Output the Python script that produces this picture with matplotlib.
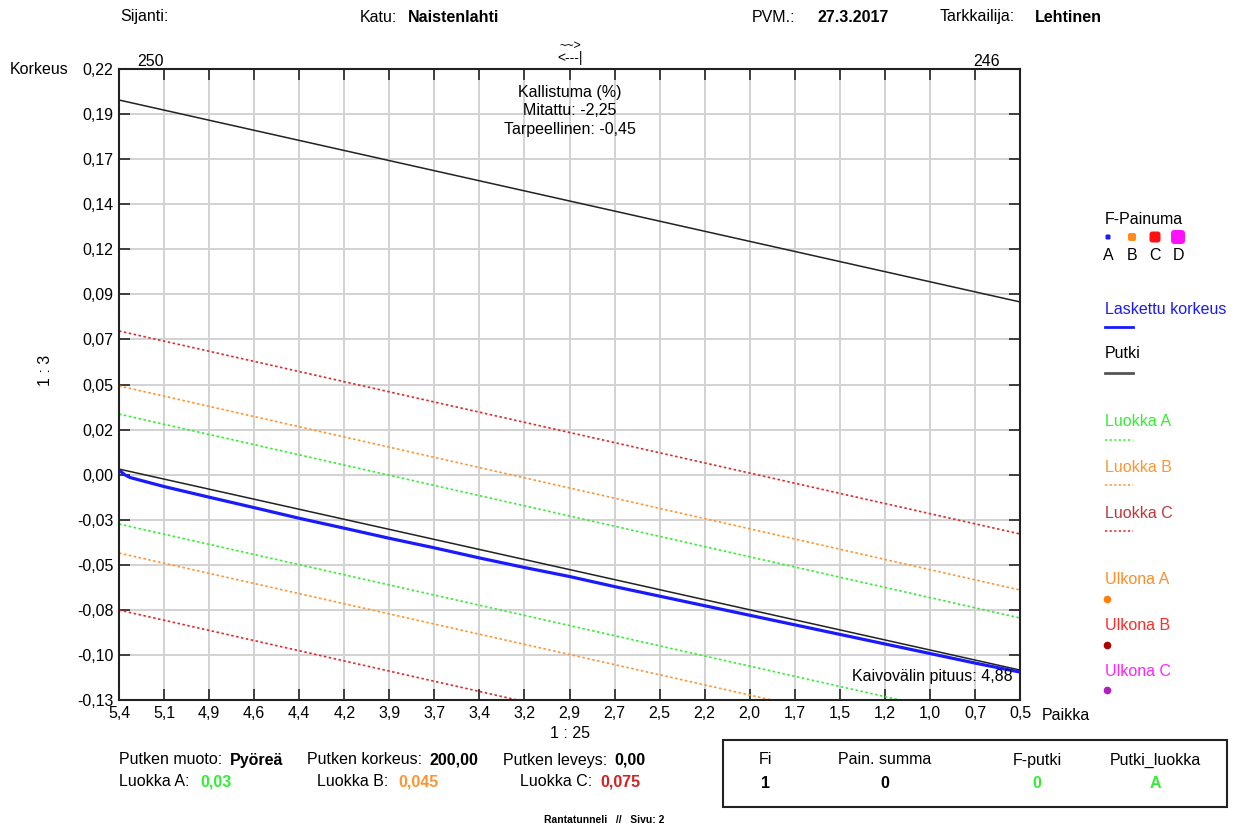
import matplotlib

matplotlib.use("Agg")
import matplotlib.pyplot as plt
from matplotlib.patches import FancyBboxPatch, Rectangle

plt.rcParams["font.family"] = ["Liberation Sans", "DejaVu Sans"]
plt.rcParams["font.size"] = 11.5

# --- data ------------------------------------------------------------------
paikka_ticks = [5.38, 5.136, 4.892, 4.648, 4.404, 4.16, 3.916, 3.672, 3.428, 3.184,
                2.94, 2.696, 2.452, 2.208, 1.964, 1.72, 1.476, 1.232, 0.988, 0.744, 0.5]
paikka_labels = ["5,4", "5,1", "4,9", "4,6", "4,4", "4,2", "3,9", "3,7", "3,4", "3,2",
                 "2,9", "2,7", "2,5", "2,2", "2,0", "1,7", "1,5", "1,2", "1,0", "0,7", "0,5"]
korkeus_ticks = [0.22, 0.195, 0.17, 0.145, 0.12, 0.095, 0.07, 0.045, 0.02, -0.005,
                 -0.03, -0.055, -0.08, -0.105, -0.13]
korkeus_labels = ["0,22", "0,19", "0,17", "0,14", "0,12", "0,09", "0,07", "0,05", "0,02",
                  "0,00", "-0,03", "-0,05", "-0,08", "-0,10", "-0,13"]

# measured (calculated) height along the pipe
laskettu_x = [5.38, 5.35, 5.32, 5.136, 4.892, 4.648, 4.404, 4.16, 3.916, 3.672, 3.428,
              3.184, 2.94, 2.696, 2.452, 2.208, 1.964, 1.72, 1.476, 1.232, 0.988, 0.744, 0.5]
laskettu_y = [-0.0024, -0.0050, -0.0066, -0.0116, -0.0175, -0.0233, -0.0292, -0.0347,
              -0.0403, -0.0456, -0.0512, -0.0565, -0.0615, -0.0671, -0.0724, -0.0777,
              -0.0830, -0.0883, -0.0936, -0.0989, -0.1042, -0.1095, -0.1145]

# straight lines: values at the two ends (x = 5.38 and x = 0.5)
ends_x = [5.38, 0.5]
putki_ala = [-0.0019, -0.1134]
putki_yla = [0.2028, 0.0908]
luokka_a_yla = [0.0286, -0.0845]
luokka_a_ala = [-0.0324, -0.1450]
luokka_b_yla = [0.0442, -0.0690]
luokka_b_ala = [-0.0485, -0.1610]
luokka_c_yla = [0.0747, -0.0379]
luokka_c_ala = [-0.0801, -0.1930]

BLUE = "#1a1aff"
GREEN = "#33ee33"
ORANGE = "#ff9430"
RED = "#dd2a2a"
GRID = "#d2d2d2"

W, H = 1237, 827
fig = plt.figure(figsize=(W / 100, H / 100), dpi=100)

# page overlay in pixel coordinates for all the form text
page = fig.add_axes([0, 0, 1, 1], zorder=0)
page.set_xlim(0, W)
page.set_ylim(H, 0)
page.axis("off")

L, R, T, B = 119, 1020, 69, 700
ax = fig.add_axes([L / W, 1 - B / H, (R - L) / W, (B - T) / H], zorder=1)
ax.patch.set_alpha(0)

dotted = (0, (1.5, 1.5))
ax.plot(ends_x, putki_yla, color="#222222", lw=1.1)
ax.plot(ends_x, putki_ala, color="#222222", lw=1.1)
for ys, col in ((luokka_a_yla, GREEN), (luokka_a_ala, GREEN),
                (luokka_b_yla, ORANGE), (luokka_b_ala, ORANGE),
                (luokka_c_yla, RED), (luokka_c_ala, RED)):
    ax.plot(ends_x, ys, color=col, lw=1.2, linestyle=dotted)
ax.plot(laskettu_x, laskettu_y, color=BLUE, lw=2.3, solid_capstyle="butt")

ax.set_xlim(paikka_ticks[0], paikka_ticks[-1])
ax.set_ylim(korkeus_ticks[-1], korkeus_ticks[0])
ax.set_xticks(paikka_ticks, paikka_labels)
ax.set_yticks(korkeus_ticks, korkeus_labels)
ax.grid(True, color=GRID, lw=1.4)
ax.set_axisbelow(True)
ax.tick_params(direction="in", length=8, width=1.3, color="#333333",
               top=True, right=True, labelsize=11.5, pad=4)
for sp in ax.spines.values():
    sp.set_linewidth(1.5)
    sp.set_color("#222222")

ax.text(0.5, 0.975, "Kallistuma (%)\nMitattu: -2,25\nTarpeellinen: -0,45",
        transform=ax.transAxes, ha="center", va="top", linespacing=1.3)
ax.text(0.992, 0.037, "Kaivovälin pituus: 4,88", transform=ax.transAxes,
        ha="right", va="center")

# --- page texts -------------------------------------------------------------
def t(x, y, s, **kw):
    kw.setdefault("va", "center")
    page.text(x, y, s, **kw)

t(120, 17, "Sijanti:")
t(360, 17, "Katu:")
t(408, 17, "Naistenlahti", weight="bold")
t(752, 17, "PVM.:")
t(818, 17, "27.3.2017", weight="bold")
t(940, 17, "Tarkkailija:")
t(1035, 17, "Lehtinen", weight="bold")

t(10, 69, "Korkeus")
t(151, 61, "250", ha="center")
t(987, 61, "246", ha="center")
t(570, 46, "~~>", ha="center", fontsize=9)
t(570, 58, "<---|", ha="center", fontsize=10)
t(45, 370, "1 : 3", ha="center", rotation=90)
t(570, 733, "1 : 25", ha="center")
t(1042, 716, "Paikka")

t(119, 760, "Putken muoto:")
t(230, 760, "Pyöreä", weight="bold")
t(307, 760, "Putken korkeus:")
t(430, 760, "200,00", weight="bold")
t(503, 760, "Putken leveys:")
t(614, 760, "0,00", weight="bold")
t(119, 782, "Luokka A:")
t(200, 782, "0,03", weight="bold", color=GREEN)
t(317, 782, "Luokka B:")
t(398, 782, "0,045", weight="bold", color=ORANGE)
t(520, 782, "Luokka C:")
t(600, 782, "0,075", weight="bold", color="#d42020")

page.add_patch(Rectangle((723, 740), 504, 67, fill=False, lw=1.5, ec="#222222"))
for x, head, val, col in ((765, "Fi", "1", "black"), (885, "Pain. summa", "0", "black"),
                          (1037, "F-putki", "0", GREEN), (1155, "Putki_luokka", "A", GREEN)):
    t(x, 760, head, ha="center")
    t(x, 783, val, ha="center", weight="bold", color=col)

t(604, 820, "Rantatunneli   //   Sivu: 2", ha="center", fontsize=7.5, weight="bold")

# --- right-hand legend ------------------------------------------------------
t(1105, 219, "F-Painuma")
for x, size, col, letter in ((1108, 5, BLUE, "A"), (1132, 8, "#ff8c1a", "B"),
                             (1155, 11, "#ff1010", "C"), (1178, 14, "#ff10ff", "D")):
    page.add_patch(FancyBboxPatch((x - size / 2, 237 - size / 2), size, size,
                                  boxstyle=f"round,pad=0,rounding_size={size * 0.25}",
                                  color=col, lw=0))
    t(x, 255, letter, ha="center")

t(1105, 310, "Laskettu korkeus", color=BLUE)
page.plot([1105, 1133], [327, 327], color=BLUE, lw=2)
t(1105, 354, "Putki")
page.plot([1105, 1133], [373, 373], color="#555555", lw=2)
for y, label, col, lcol in ((422, "Luokka A", GREEN, GREEN), (467, "Luokka B", ORANGE, ORANGE),
                            (513, "Luokka C", "#c0363a", RED)):
    t(1105, y, label, color=col)
    page.plot([1105, 1133], [y + 18, y + 18], color=lcol, lw=1.1, linestyle=dotted)
for y, label, col, dot in ((580, "Ulkona A", "#ff8c28", "#ff7f0e"),
                           (626, "Ulkona B", "#ff2a2a", "#b00000"),
                           (671, "Ulkona C", "#ff22ff", "#b020c0")):
    t(1105, y, label, color=col)
    page.plot([1107], [y + 19], "o", color=dot, ms=4.5)

fig.savefig("out.png", dpi=100)
